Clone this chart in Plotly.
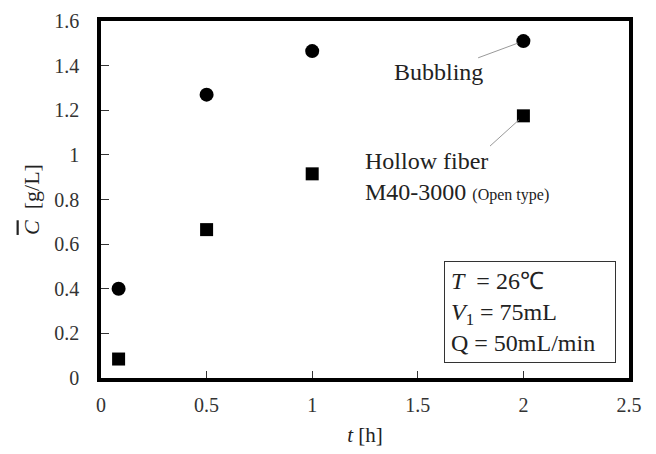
import plotly.graph_objects as go

t_hours = [1/12, 0.5, 1.0, 2.0]
bubbling = [0.40, 1.27, 1.465, 1.51]
hollow_fiber = [0.085, 0.665, 0.915, 1.175]
x_ticks = [0, 0.5, 1, 1.5, 2, 2.5]
x_tick_labels = ["0", "0.5", "1", "1.5", "2", "2.5"]
y_ticks = [0, 0.2, 0.4, 0.6, 0.8, 1.0, 1.2, 1.4, 1.6]
y_tick_labels = ["0", "0.2", "0.4", "0.6", "0.8", "1", "1.2", "1.4", "1.6"]

FONT = "Liberation Serif"

fig = go.Figure()
fig.add_trace(go.Scatter(x=t_hours, y=bubbling, mode="markers", name="Bubbling",
                         marker=dict(symbol="circle", size=14, color="black")))
fig.add_trace(go.Scatter(x=t_hours, y=hollow_fiber, mode="markers", name="Hollow fiber",
                         marker=dict(symbol="square", size=13, color="black")))

fig.add_annotation(x=t_hours[3], y=bubbling[3], xref="x", yref="y",
                   ax=1.6, ay=1.37, axref="x", ayref="y",
                   text="Bubbling", showarrow=True, arrowhead=0, arrowwidth=1,
                   arrowcolor="#999999", standoff=6,
                   font=dict(family=FONT, size=24, color="#222222"))
fig.add_annotation(x=t_hours[3], y=hollow_fiber[3], xref="x", yref="y",
                   ax=1.685, ay=0.905, axref="x", ayref="y",
                   text="Hollow fiber<br>M40-3000 <span style='font-size:16px'>(Open type)</span>",
                   align="left", showarrow=True, arrowhead=0, arrowwidth=1,
                   arrowcolor="#999999", standoff=6,
                   font=dict(family=FONT, size=24, color="#222222"))
fig.add_annotation(x=2.03, y=0.295, xref="x", yref="y", showarrow=False,
                   text="<i>T</i>  = 26\u2103<br><i>V</i><sub>1</sub> = 75mL<br>Q = 50mL/min",
                   align="left", width=158, bordercolor="#333333", borderwidth=1, borderpad=6,
                   bgcolor="white",
                   font=dict(family=FONT, size=24, color="#222222"))

fig.update_layout(
    width=656, height=454,
    margin=dict(l=101, r=27, t=10, b=75),
    paper_bgcolor="white", plot_bgcolor="white",
    showlegend=False,
    font=dict(family=FONT, size=20, color="#222222"),
)
fig.update_xaxes(range=[0, 2.5], tickvals=x_ticks, ticktext=x_tick_labels,
                 ticks="inside", ticklen=7, tickwidth=1, tickcolor="#333333",
                 showline=True, linewidth=3.5, linecolor="black", mirror=True,
                 showgrid=False, zeroline=False, ticklabelstandoff=6,
                 tickfont=dict(family=FONT, size=20, color="#333333"),
                 title=dict(text="<i>t</i> [h]", font=dict(family=FONT, size=21), standoff=14))
fig.update_yaxes(range=[0, 1.6], tickvals=y_ticks, ticktext=y_tick_labels,
                 ticks="inside", ticklen=8, tickwidth=1, tickcolor="#333333",
                 showline=True, linewidth=3.5, linecolor="black", mirror=True,
                 showgrid=False, zeroline=False, ticklabelstandoff=14,
                 tickfont=dict(family=FONT, size=20, color="#333333"),
                 title=dict(text="<span style='text-decoration:overline'><i>C</i></span>  [g/L]",
                            font=dict(family=FONT, size=22), standoff=10))

fig.write_html("out.html")
